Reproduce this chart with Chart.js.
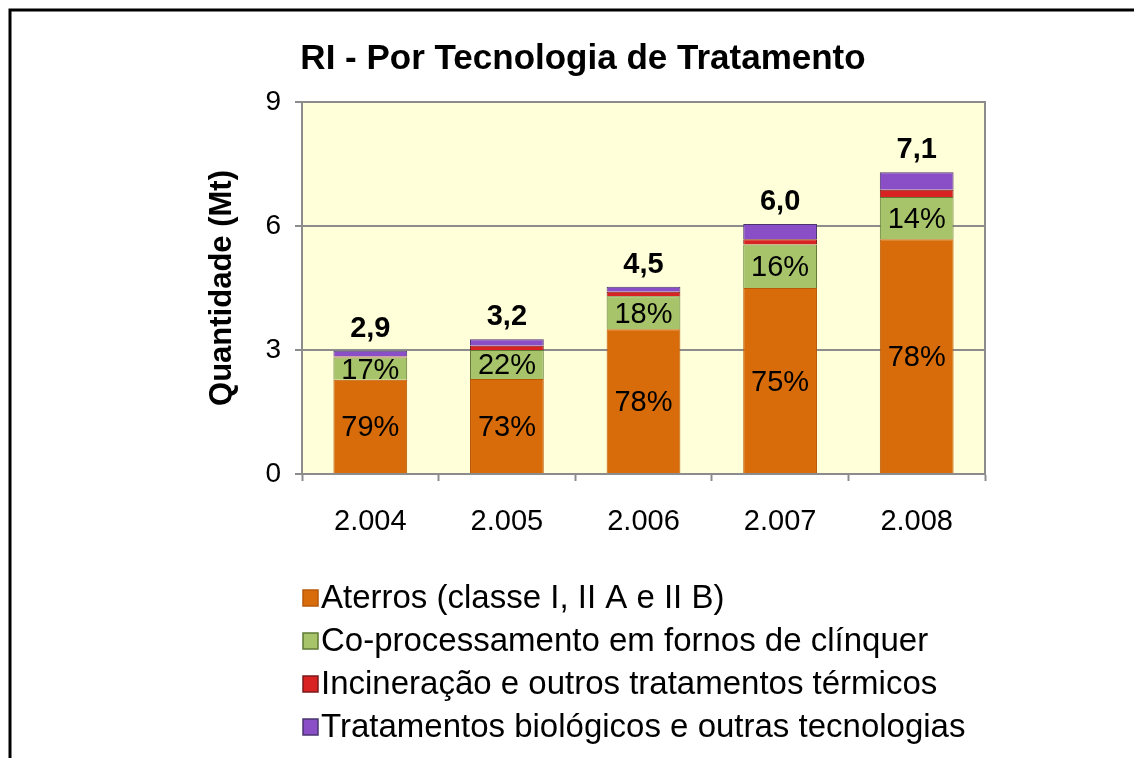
<!DOCTYPE html>
<html>
<head>
<meta charset="utf-8">
<title>RI - Por Tecnologia de Tratamento</title>
<script src="https://cdn.jsdelivr.net/npm/chart.js@4.4.1/dist/chart.umd.min.js"></script>
<style>
  html, body { margin: 0; padding: 0; background: #fff; }
  #wrap { width: 1134px; height: 758px; position: relative; }
</style>
</head>
<body>
<div id="wrap"><canvas id="chart" width="1134" height="758"></canvas></div>
<script>
// dados (Mt)
const anos = ['2.004', '2.005', '2.006', '2.007', '2.008'];
const aterros = [2.28, 2.30, 3.50, 4.50, 5.68];
const coprocessamento = [0.54, 0.70, 0.80, 1.05, 1.02];
const incineracao = [0.02, 0.10, 0.11, 0.13, 0.18];
const biologicos = [0.14, 0.16, 0.12, 0.37, 0.42];

const pctAterros = ['79%', '73%', '78%', '75%', '78%'];
const pctCopro = ['17%', '22%', '18%', '16%', '14%'];
const totais = ['2,9', '3,2', '4,5', '6,0', '7,1'];

const yTicks = [0, 3, 6, 9];

const nomes = [
  'Aterros (classe I, II A e II B)',
  'Co-processamento em fornos de clínquer',
  'Incineração e outros tratamentos térmicos',
  'Tratamentos biológicos e outras tecnologias'
];

const FONT = '"Liberation Sans", Arial, sans-serif';

// fundo da área do gráfico e moldura
const fundoPlugin = {
  id: 'fundo',
  beforeDraw(chart) {
    const { ctx, chartArea: a } = chart;
    ctx.save();
    ctx.fillStyle = '#ffffff';
    ctx.fillRect(0, 0, chart.width, chart.height);
    ctx.fillStyle = '#ffffd9';
    ctx.fillRect(a.left, a.top, a.right - a.left, a.bottom - a.top);
    // moldura externa (só topo e esquerda aparecem)
    ctx.strokeStyle = '#000';
    ctx.lineWidth = 3;
    ctx.beginPath();
    ctx.moveTo(10, chart.height + 5);
    ctx.lineTo(10, 10);
    ctx.lineTo(chart.width + 5, 10);
    ctx.stroke();
    ctx.restore();
  },
  beforeDatasetsDraw(chart) {
    const { ctx, chartArea: a } = chart;
    ctx.save();
    ctx.strokeStyle = '#8c8c8c';
    ctx.lineWidth = 2;
    ctx.beginPath();
    ctx.moveTo(a.left, a.top);
    ctx.lineTo(a.right, a.top);
    ctx.lineTo(a.right, a.bottom);
    ctx.stroke();
    ctx.restore();
  }
};

// rótulos: percentuais dentro das barras e totais no topo
const rotulosPlugin = {
  id: 'rotulos',
  afterDatasetsDraw(chart) {
    const { ctx } = chart;
    ctx.save();
    ctx.fillStyle = '#000';
    ctx.textAlign = 'center';
    ctx.textBaseline = 'middle';
    ctx.font = '29px ' + FONT;
    const m0 = chart.getDatasetMeta(0).data;
    const m1 = chart.getDatasetMeta(1).data;
    m0.forEach((bar, i) => {
      ctx.fillText(pctAterros[i], bar.x, (bar.y + bar.base) / 2 + 2);
    });
    m1.forEach((bar, i) => {
      ctx.fillText(pctCopro[i], bar.x, (bar.y + bar.base) / 2 + 2);
    });
    ctx.font = 'bold 29px ' + FONT;
    const topo = chart.getDatasetMeta(3).data;
    topo.forEach((bar, i) => {
      ctx.fillText(totais[i], bar.x, bar.y - 22);
    });
    ctx.restore();
  },
  afterDraw(chart) {
    const { ctx, chartArea: a } = chart;
    ctx.save();
    // título
    ctx.fillStyle = '#000';
    ctx.font = 'bold 35px ' + FONT;
    ctx.textAlign = 'center';
    ctx.textBaseline = 'middle';
    ctx.fillText('RI - Por Tecnologia de Tratamento', 583, 59);
    // legenda vertical
    ctx.font = '33px ' + FONT;
    ctx.textAlign = 'left';
    chart.data.datasets.forEach((ds, i) => {
      const y = a.bottom + 124 + i * 43;
      ctx.fillStyle = ds.backgroundColor;
      ctx.fillRect(303, y - 8, 15, 16);
      ctx.strokeStyle = ds.borderColor;
      ctx.lineWidth = 1.5;
      ctx.strokeRect(303, y - 8, 15, 16);
      ctx.fillStyle = '#000';
      ctx.fillText(ds.label, 321, y + 1);
    });
    ctx.restore();
  }
};

const cores = ['#d96c0a', '#a8c46a', '#d92222', '#8a4fc6'];
const bordas = ['#b85808', '#5f7a35', '#7a1a1a', '#4a3470'];
const series = [aterros, coprocessamento, incineracao, biologicos];

new Chart(document.getElementById('chart'), {
  type: 'bar',
  data: {
    labels: anos,
    datasets: series.map((s, i) => ({
      label: nomes[i],
      data: s,
      backgroundColor: cores[i],
      borderColor: bordas[i],
      borderWidth: 1,
      barPercentage: 0.54,
      categoryPercentage: 1
    }))
  },
  options: {
    responsive: false,
    animation: false,
    layout: { padding: { left: 190, top: 102, right: 149, bottom: 0 } },
    plugins: {
      legend: { display: false },
      title: { display: false },
      tooltip: { enabled: false }
    },
    scales: {
      x: {
        stacked: true,
        grid: {
          display: true,
          drawOnChartArea: false,
          drawTicks: true,
          tickLength: 7,
          tickWidth: 2,
          tickColor: '#8c8c8c',
          offset: true
        },
        border: { color: '#8c8c8c', width: 2 },
        ticks: {
          color: '#000',
          font: { family: FONT, size: 29 },
          padding: 24
        },
        afterFit(scale) { scale.height = 284; }
      },
      y: {
        stacked: true,
        min: 0,
        max: 9,
        afterBuildTicks(scale) { scale.ticks = yTicks.map(v => ({ value: v })); },
        grid: {
          color: '#8c8c8c',
          lineWidth: 2,
          drawTicks: true,
          tickLength: 7,
          tickColor: '#8c8c8c'
        },
        border: { color: '#8c8c8c', width: 2 },
        ticks: {
          color: '#000',
          font: { family: FONT, size: 28 },
          padding: 14
        },
        title: {
          display: true,
          text: 'Quantidade (Mt)',
          color: '#000',
          font: { family: FONT, size: 31, weight: 'bold' },
          padding: { top: 14, bottom: 0 }
        },
        afterFit(scale) { scale.width = 112; }
      }
    }
  },
  plugins: [fundoPlugin, rotulosPlugin]
});
</script>
</body>
</html>
